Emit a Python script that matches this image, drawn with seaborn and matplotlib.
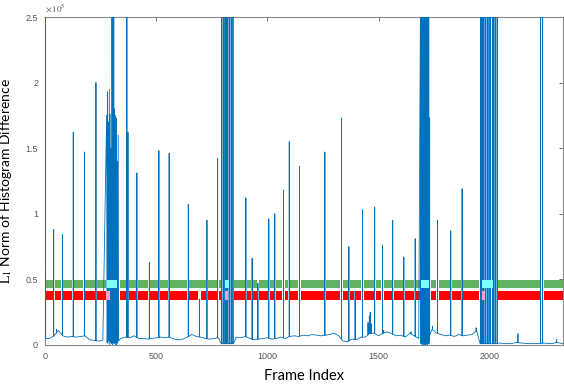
import numpy as np
import pandas as pd
import matplotlib
matplotlib.use("Agg")
import matplotlib.pyplot as plt
import seaborn as sns
from matplotlib.ticker import FixedLocator, FuncFormatter

# ---------------------------------------------------------------- data
# all signal values are in units of 1e5
SCALE = 1e5

# slowly varying floor of the histogram difference, sampled every 20 frames
base_frames = list(range(0, 2341, 20))
base_values = [
    0.06, 0.05, 0.07, 0.11, 0.07, 0.06, 0.065, 0.06, 0.065, 0.07,     # 0-180
    0.04, 0.035, 0.03, 0.035, 0.03, 0.03, 0.04, 0.05, 0.06, 0.055,    # 200-380
    0.07, 0.05, 0.05, 0.045, 0.05, 0.055, 0.06, 0.055, 0.06, 0.045,   # 400-580
    0.04, 0.045, 0.06, 0.08, 0.065, 0.06, 0.05, 0.045, 0.05, 0.055,   # 600-780
    0.04, 0.03, 0.05, 0.06, 0.055, 0.065, 0.05, 0.04, 0.045, 0.05,    # 800-980
    0.055, 0.045, 0.05, 0.06, 0.05, 0.065, 0.07, 0.065, 0.075, 0.07,  # 1000-1180
    0.08, 0.075, 0.07, 0.075, 0.08, 0.09, 0.07, 0.03, 0.025, 0.045,   # 1200-1380
    0.04, 0.06, 0.06, 0.09, 0.09, 0.07, 0.09, 0.10, 0.085, 0.07,      # 1400-1580
    0.075, 0.06, 0.09, 0.07, 0.05, 0.03, 0.04, 0.12, 0.09, 0.08,      # 1600-1780
    0.07, 0.075, 0.065, 0.08, 0.07, 0.075, 0.08, 0.11, 0.03, 0.01,    # 1800-1980
    0.01, 0.012, 0.015, 0.012, 0.01, 0.012, 0.02, 0.015, 0.012, 0.01, # 2000-2180
    0.012, 0.01, 0.015, 0.012, 0.01, 0.02, 0.012, 0.01,               # 2200-2340
]

# isolated single-frame peaks (shot cuts and flashes)
spike_frames = [39, 78, 127, 177, 229, 368, 373, 413, 469, 512, 558,
                644, 694, 728, 776, 903, 931, 957, 1006, 1033, 1072,
                1098, 1144, 1258, 1333, 1366, 1394, 1427, 1482, 1517,
                1563, 1613, 1664, 1729, 1764, 1824, 1875, 2228, 2237]
spike_heights = [0.88, 0.84, 1.62, 1.47, 2.00, 3.00, 1.62, 1.31, 0.63, 1.48, 1.46,
                 1.07, 0.35, 0.95, 1.42, 1.12, 0.66, 0.47, 0.96, 1.00, 1.18,
                 1.55, 1.36, 1.47, 1.73, 0.75, 0.41, 1.03, 1.05, 0.76,
                 0.95, 0.67, 0.81, 1.73, 0.95, 0.87, 1.19, 3.00, 3.00]

# small bumps on the floor
bump_frames = [52, 1452, 1458, 1462, 1467, 1522, 1645, 1742, 1938, 2126, 2300]
bump_heights = [0.12, 0.17, 0.22, 0.25, 0.16, 0.11, 0.10, 0.14, 0.13, 0.085, 0.04]

# very first frame
edge_frames = [1, 3]
edge_values = [3.00, 0.05]

# dense bursts of rapidly alternating values
burst1_frames = [277, 279, 281, 283, 285, 287, 289, 291, 293, 295, 297, 299, 301, 303,
                 305, 307, 309, 311, 313, 315, 317, 319, 321, 323, 325, 327, 329, 331]
burst1_values = [1.75, 0.02, 1.93, 0.01, 1.70, 0.03, 1.95, 0.00, 1.76, 0.02, 1.50, 0.01, 3.00, 0.00,
                 3.00, 0.02, 3.00, 0.01, 1.80, 0.02, 1.75, 0.00, 1.73, 0.02, 1.40, 0.01, 1.60, 0.03]

burst3_frames = [1689, 1690, 1691, 1692, 1693, 1694, 1695, 1696, 1697, 1698, 1699, 1700, 1701,
                 1702, 1703, 1704, 1705, 1706, 1707, 1708, 1709, 1710, 1711, 1712, 1713, 1714,
                 1715, 1716, 1717, 1718, 1719, 1720, 1721, 1722, 1723, 1724, 1725, 1726, 1727]
burst3_values = [3.00, 0.01, 3.00, 0.02, 3.00, 0.01, 3.00, 0.00, 3.00, 0.02, 3.00, 0.01, 3.00,
                 0.02, 3.00, 0.00, 3.00, 0.01, 3.00, 0.02, 3.00, 0.01, 3.00, 0.00, 3.00, 0.02,
                 3.00, 0.01, 3.00, 0.02, 3.00, 0.00, 3.00, 0.01, 3.00, 0.02, 3.00, 0.01, 0.04]

# sparse bursts: separate full-height flashes dropping to the floor in between
burst2_peaks = [794, 801, 809, 815, 822, 830, 837, 845]
burst2_floor = 0.01
burst4_peaks = [1958, 1961, 1966, 1973, 1981, 1988, 1996, 2003, 2011, 2018, 2026, 2033]
burst4_floor = 0.01
FLASH = 3.00

# threshold bands (lower edge, upper edge)
green_band = (0.437, 0.495)
red_band = (0.343, 0.410)

# parts of the bands overlapped by the bursts
cyan_spans = [(277, 323), (808, 827), (1692, 1725), (1963, 2012)]
pink_spans = [(274, 292), (808, 823), (1963, 1976)]

x_ticks = [0, 500, 1000, 1500, 2000]
y_ticks = [0, 0.5, 1, 1.5, 2, 2.5]
X_MAX = 2330
GAP = 5

# ---------------------------------------------------------------- build the trace
verts = list(zip(base_frames, base_values))
for f, h in list(zip(spike_frames, spike_heights)) + list(zip(bump_frames, bump_heights)):
    b = float(np.interp(f, base_frames, base_values))
    verts += [(f, b), (f, h), (f, b)]
for peaks, floor in [(burst2_peaks, burst2_floor), (burst4_peaks, burst4_floor)]:
    verts = [p for p in verts if not (min(peaks) - 2 <= p[0] <= max(peaks) + 2)]
    verts += [(peaks[0] - 2, floor)]
    for f in peaks:
        verts += [(f, floor), (f, FLASH), (f, floor)]
    verts += [(peaks[-1] + 2, floor)]
bursts = [(edge_frames, edge_values), (burst1_frames, burst1_values),
          (burst3_frames, burst3_values)]
for fr, vals in bursts:
    verts += list(zip(fr, vals))
verts.sort(key=lambda p: p[0])
trace = pd.DataFrame(verts, columns=["frame", "value"])
trace["value"] = trace["value"] * SCALE

burst_ranges = [(min(burst1_frames), max(burst1_frames)),
                (min(burst2_peaks), max(burst2_peaks)),
                (min(burst3_frames), max(burst3_frames)),
                (min(burst4_peaks), max(burst4_peaks))]


def band_pieces(bottom):
    gaps = [(f - GAP, f + GAP) for f, h in zip(spike_frames, spike_heights) if h > bottom]
    gaps += [(a - GAP, b + GAP) for a, b in burst_ranges]
    gaps.sort()
    pieces, start = [], 0
    for g0, g1 in gaps:
        if g0 > start:
            pieces.append((start, g0 - start))
        start = max(start, g1)
    if start < X_MAX:
        pieces.append((start, X_MAX - start))
    return pieces


# ---------------------------------------------------------------- figure
sns.set_theme(style="white")
plt.rcParams["mathtext.fontset"] = "stix"
plt.rcParams["path.simplify"] = False

fig = plt.figure(figsize=(5.64, 3.84), dpi=100)
ax = fig.add_axes([0.0798, 0.1016, 0.919, 0.8541])

BLUE = "#0072BD"

for (lo, hi), col in [(green_band, "#62B162"), (red_band, "#FF0000")]:
    ax.broken_barh(band_pieces(lo), (lo * SCALE, (hi - lo) * SCALE),
                   facecolor=col, edgecolor="none", zorder=1)

sns.lineplot(data=trace, x="frame", y="value", sort=False, estimator=None,
             color=BLUE, linewidth=0.6, ax=ax, zorder=3)

ax.broken_barh([(a, b - a) for a, b in cyan_spans],
               (green_band[0] * SCALE, (green_band[1] - green_band[0]) * SCALE),
               facecolor="#80FFFF", edgecolor="none", zorder=4)
ax.broken_barh([(a, b - a) for a, b in pink_spans],
               (red_band[0] * SCALE, (red_band[1] - red_band[0]) * SCALE),
               facecolor="#FF9ECF", edgecolor="none", zorder=4)

ax.set_xlim(0, X_MAX)
ax.set_ylim(0, 2.5 * SCALE)
ax.xaxis.set_major_locator(FixedLocator(x_ticks))
ax.yaxis.set_major_locator(FixedLocator([t * SCALE for t in y_ticks]))
ax.yaxis.set_major_formatter(FuncFormatter(lambda v, _: f"{v / SCALE:g}"))

ax.tick_params(axis="both", direction="in", length=3, width=0.6, colors="#555555",
               labelsize=6.5, top=True, right=True)
ax.tick_params(axis="x", pad=5)
ax.tick_params(axis="y", pad=5)
for lab in ax.get_xticklabels() + ax.get_yticklabels():
    lab.set_fontfamily("Liberation Sans")

for sp in ax.spines.values():
    sp.set_color("#8a8a8a")
    sp.set_linewidth(0.8)

ax.text(0.0, 1.008, r"$\times\,10^{5}$", transform=ax.transAxes, fontsize=6.5,
        color="#555555", ha="left", va="bottom")

ax.set_xlabel("Frame Index", fontsize=10.5, family="Lato", color="black", labelpad=6)
ax.set_ylabel(r"$\mathrm{L}_1$ Norm of Histogram Difference", fontsize=10,
              family="Lato", color="black", labelpad=8)

fig.savefig("out.png", dpi=100)
